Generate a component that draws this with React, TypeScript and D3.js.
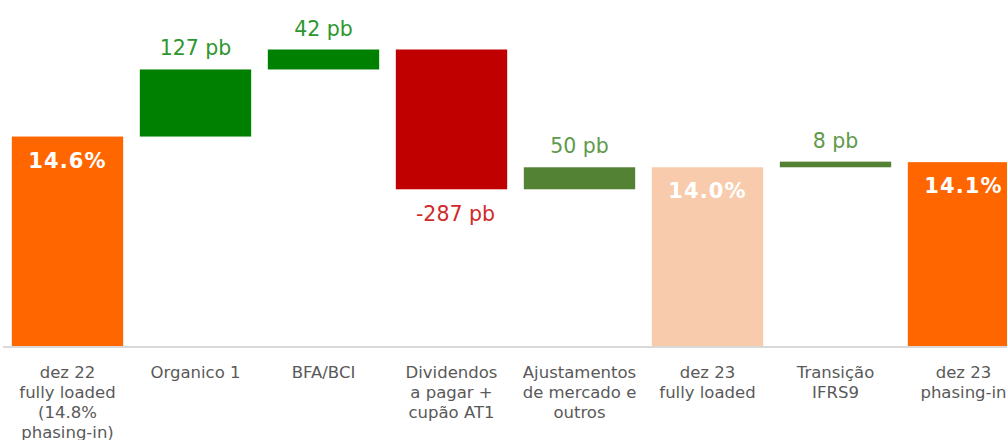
import React from "react";
import * as d3 from "d3";

const categories: string[][] = [
  ["dez 22", "fully loaded", "(14.8%", "phasing-in)"],
  ["Organico 1"],
  ["BFA/BCI"],
  ["Dividendos", "a pagar +", "cupão AT1"],
  ["Ajustamentos", "de mercado e", "outros"],
  ["dez 23", "fully loaded"],
  ["Transição", "IFRS9"],
  ["dez 23", "phasing-in"],
];

// "total" bars start at axis minimum; floating bars go from barStart to barEnd (in %)
const kinds = ["total", "up", "up", "down", "up", "total", "up", "total"];
const barStart = [10.5, 14.6, 15.91, 16.3, 13.57, 10.5, 14.0, 10.5];
const barEnd = [14.6, 15.91, 16.3, 13.57, 14.0, 14.0, 14.11, 14.1];
const labelValues = [14.6, 127, 42, -287, 50, 14.0, 8, 14.1];

const barColors = ["#FF6600", "#008000", "#008000", "#C00000", "#548235", "#F8CBAD", "#548235", "#FF6600"];
const labelColors = ["#FFFFFF", "#2E962E", "#2E962E", "#D02A2A", "#5F9A4A", "#FFFFFF", "#5F9A4A", "#FFFFFF"];

const W = 1007;
const H = 440;

export default function App() {
  const x = d3
    .scaleBand<number>()
    .domain(d3.range(categories.length))
    .range([3.5, 3.5 + 128 * categories.length])
    .paddingInner(0.13)
    .paddingOuter(0.065);
  const y = d3.scaleLinear().domain([10.5, 16.3]).range([346.5, 49.5]);
  const baseline = y(10.5);

  return (
    <svg
      width={W}
      height={H}
      style={{ position: "absolute", left: 0, top: 0, background: "#fff" }}
      fontFamily="'DejaVu Sans', Verdana, sans-serif"
    >
      {categories.map((_, i) => {
        const x0 = x(i)!;
        const bw = x.bandwidth();
        const lo = Math.min(barStart[i], barEnd[i]);
        const hi = Math.max(barStart[i], barEnd[i]);
        const yTop = y(hi);
        const yBot = y(lo);
        const cx = x0 + bw / 2;
        let label: React.ReactNode = null;
        if (kinds[i] === "total") {
          label = (
            <text
              x={cx}
              y={yTop + 31}
              textAnchor="middle"
              fill={labelColors[i]}
              fontWeight="bold"
              fontSize={21}
              letterSpacing={1.1}
            >
              {d3.format(".1f")(labelValues[i]) + "%"}
            </text>
          );
        } else if (kinds[i] === "up") {
          label = (
            <text x={cx} y={yTop - 14} textAnchor="middle" fill={labelColors[i]} fontSize={20.5}>
              {labelValues[i] + " pb"}
            </text>
          );
        } else {
          label = (
            <text x={cx + 4} y={yBot + 32} textAnchor="middle" fill={labelColors[i]} fontSize={20.5}>
              {labelValues[i] + " pb"}
            </text>
          );
        }
        return (
          <g key={i}>
            <rect x={x0} y={yTop} width={bw} height={yBot - yTop} fill={barColors[i]} />
            {label}
          </g>
        );
      })}
      <line x1={3} x2={W} y1={baseline + 0.5} y2={baseline + 0.5} stroke="#D9D9D9" strokeWidth={2} />
      {categories.map((lines, i) => {
        const cx = x(i)! + x.bandwidth() / 2;
        return (
          <text key={i} textAnchor="middle" fill="#595959" fontSize={16.5}>
            {lines.map((ln, j) => (
              <tspan key={j} x={cx} y={378.3 + j * 20}>
                {ln}
              </tspan>
            ))}
          </text>
        );
      })}
    </svg>
  );
}
